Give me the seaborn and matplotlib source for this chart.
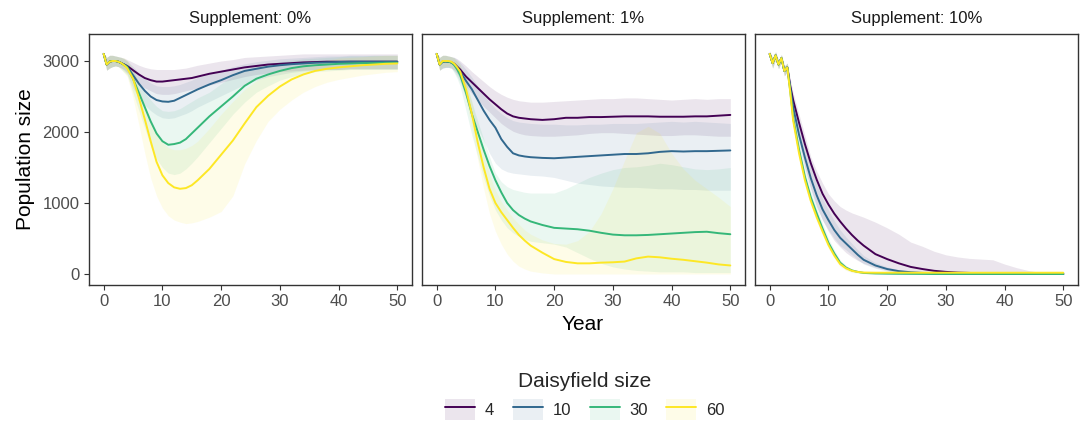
import matplotlib
matplotlib.use("Agg")
import matplotlib.pyplot as plt
import seaborn as sns
import pandas as pd
from matplotlib.patches import Patch
from matplotlib.lines import Line2D

# ---------------- data ----------------
YEARS = [0, 0.5, 1, 1.5, 2, 2.5, 3, 3.5, 4,
         5, 6, 7, 8, 9, 10, 11, 12, 13, 14, 15, 16,
         18, 20, 22, 24, 26, 28, 30, 32, 34, 36, 38, 40, 42, 44, 46, 48, 50]
SUPPLEMENTS = ["Supplement: 0%", "Supplement: 1%", "Supplement: 10%"]
FIELD_SIZES = ["4", "10", "30", "60"]
COLORS = ["#440154", "#31688E", "#35B779", "#FDE725"]

# Supplement 0%
S0_M4 = [3100, 2950, 2990, 3000, 3000, 2990, 2970, 2950, 2930,
         2870, 2810, 2760, 2730, 2710, 2710, 2720, 2730, 2740, 2750, 2760, 2780,
         2820, 2850, 2880, 2910, 2930, 2950, 2960, 2970, 2980, 2985, 2990, 2990, 2990, 2990, 2990, 2990, 2990]
S0_L4 = [3090, 2870, 2900, 2920, 2930, 2920, 2900, 2880, 2840,
         2760, 2680, 2620, 2580, 2540, 2530, 2530, 2540, 2560, 2580, 2600, 2620,
         2660, 2700, 2740, 2780, 2810, 2830, 2850, 2860, 2870, 2880, 2880, 2880, 2890, 2890, 2890, 2890, 2890]
S0_H4 = [3110, 3050, 3080, 3080, 3070, 3060, 3050, 3040, 3020,
         2980, 2940, 2910, 2890, 2880, 2880, 2880, 2880, 2890, 2900, 2920, 2940,
         2970, 3000, 3020, 3050, 3060, 3070, 3080, 3090, 3100, 3100, 3100, 3100, 3100, 3100, 3100, 3100, 3100]
S0_M10 = [3100, 2950, 2990, 3000, 3000, 2990, 2970, 2950, 2920,
          2800, 2680, 2580, 2500, 2450, 2430, 2425, 2440, 2480, 2520, 2560, 2600,
          2670, 2730, 2800, 2860, 2890, 2920, 2940, 2955, 2965, 2975, 2980, 2985, 2990, 2990, 2990, 2990, 2990]
S0_L10 = [3090, 2870, 2900, 2920, 2930, 2920, 2900, 2860, 2820,
          2620, 2480, 2380, 2300, 2240, 2200, 2190, 2200, 2230, 2260, 2300, 2350,
          2430, 2510, 2590, 2670, 2730, 2780, 2810, 2840, 2860, 2870, 2880, 2880, 2890, 2890, 2890, 2890, 2890]
S0_H10 = [3110, 3050, 3080, 3080, 3070, 3060, 3050, 3030, 3000,
          2920, 2830, 2750, 2690, 2650, 2640, 2640, 2650, 2670, 2700, 2730, 2770,
          2820, 2870, 2920, 2960, 2990, 3010, 3030, 3040, 3050, 3060, 3070, 3070, 3080, 3080, 3080, 3080, 3080]
S0_M30 = [3100, 2950, 2990, 3000, 3000, 2990, 2970, 2940, 2920,
          2750, 2550, 2350, 2150, 1980, 1870, 1820, 1830, 1850, 1900, 1980, 2060,
          2220, 2360, 2500, 2650, 2750, 2810, 2860, 2900, 2925, 2940, 2950, 2960, 2965, 2970, 2970, 2975, 2975]
S0_L30 = [3090, 2870, 2900, 2920, 2930, 2920, 2880, 2840, 2800,
          2550, 2300, 2050, 1800, 1620, 1500, 1420, 1400, 1420, 1480, 1560, 1650,
          1850, 2050, 2250, 2420, 2560, 2650, 2730, 2780, 2820, 2850, 2860, 2870, 2880, 2880, 2880, 2880, 2880]
S0_H30 = [3110, 3050, 3080, 3080, 3070, 3060, 3050, 3030, 3000,
          2870, 2700, 2560, 2450, 2360, 2300, 2290, 2300, 2330, 2380, 2430, 2480,
          2560, 2680, 2790, 2870, 2920, 2960, 2990, 3010, 3030, 3040, 3050, 3060, 3070, 3070, 3080, 3080, 3080]
S0_M60 = [3100, 2950, 2990, 3000, 3000, 2990, 2970, 2940, 2900,
          2750, 2480, 2180, 1870, 1580, 1390, 1280, 1220, 1200, 1210, 1250, 1320,
          1480, 1680, 1880, 2120, 2350, 2510, 2640, 2740, 2810, 2860, 2890, 2910, 2925, 2940, 2950, 2960, 2965]
S0_L60 = [3090, 2870, 2900, 2920, 2930, 2920, 2880, 2830, 2780,
          2480, 2100, 1700, 1350, 1100, 930, 820, 760, 730, 710, 720, 740,
          800, 880, 1100, 1550, 1880, 2150, 2320, 2450, 2560, 2640, 2700, 2740, 2770, 2800, 2820, 2840, 2850]
S0_H60 = [3110, 3050, 3080, 3080, 3070, 3060, 3050, 3040, 3010,
          2880, 2620, 2380, 2150, 1980, 1850, 1780, 1750, 1750, 1770, 1810, 1870,
          2050, 2250, 2430, 2600, 2720, 2800, 2860, 2910, 2950, 2980, 3010, 3040, 3050, 3060, 3070, 3080, 3080]

# Supplement 1%
S1_M4 = [3100, 2950, 2990, 2995, 2990, 2980, 2960, 2920, 2880,
         2780, 2700, 2620, 2540, 2460, 2390, 2320, 2260, 2220, 2200, 2190, 2180,
         2170, 2180, 2200, 2200, 2210, 2210, 2215, 2220, 2220, 2220, 2215, 2215, 2215, 2220, 2220, 2230, 2240]
S1_L4 = [3090, 2870, 2900, 2910, 2910, 2900, 2870, 2820, 2760,
         2640, 2540, 2450, 2360, 2280, 2200, 2120, 2060, 2010, 1980, 1960, 1950,
         1940, 1940, 1950, 1960, 1980, 1990, 1990, 1980, 1970, 1960, 1950, 1950, 1960, 1960, 1950, 1940, 1940]
S1_H4 = [3110, 3050, 3080, 3080, 3070, 3060, 3050, 3030, 3000,
         2930, 2850, 2780, 2710, 2640, 2580, 2530, 2490, 2460, 2440, 2430, 2420,
         2420, 2430, 2440, 2450, 2460, 2470, 2470, 2480, 2480, 2470, 2460, 2450, 2460, 2470, 2460, 2470, 2470]
S1_M10 = [3100, 2950, 2990, 2995, 2990, 2980, 2950, 2900, 2850,
          2720, 2600, 2450, 2300, 2170, 2060, 1900, 1790, 1700, 1670, 1655, 1645,
          1635, 1630, 1640, 1650, 1660, 1670, 1680, 1690, 1690, 1700, 1720, 1730, 1725, 1730, 1730, 1735, 1740]
S1_L10 = [3090, 2870, 2900, 2910, 2910, 2900, 2850, 2780, 2700,
          2480, 2250, 2050, 1880, 1700, 1560, 1480, 1440, 1420, 1410, 1400, 1390,
          1380, 1360, 1320, 1280, 1260, 1240, 1230, 1220, 1220, 1210, 1200, 1200, 1190, 1190, 1180, 1180, 1180]
S1_H10 = [3110, 3050, 3080, 3080, 3070, 3060, 3050, 3020, 2980,
          2880, 2770, 2650, 2520, 2420, 2330, 2260, 2200, 2160, 2140, 2130, 2120,
          2110, 2110, 2100, 2100, 2110, 2110, 2120, 2120, 2120, 2130, 2140, 2150, 2140, 2150, 2140, 2130, 2120]
S1_M30 = [3100, 2950, 2990, 2995, 2990, 2980, 2940, 2880, 2800,
          2550, 2250, 2000, 1750, 1520, 1320, 1150, 1000, 900, 830, 780, 740,
          690, 650, 640, 630, 610, 580, 555, 545, 545, 550, 560, 570, 580, 590, 595, 575, 560]
S1_L30 = [3090, 2870, 2900, 2910, 2910, 2900, 2830, 2750, 2640,
          2300, 1950, 1650, 1350, 1100, 900, 760, 650, 580, 530, 490, 460,
          440, 420, 380, 300, 220, 150, 100, 70, 50, 40, 30, 30, 30, 20, 20, 20, 20]
S1_H30 = [3110, 3050, 3080, 3080, 3070, 3060, 3040, 2990, 2940,
          2700, 2420, 2150, 1900, 1650, 1420, 1300, 1230, 1190, 1170, 1150, 1140,
          1140, 1140, 1200, 1280, 1360, 1420, 1470, 1500, 1510, 1530, 1560, 1540, 1510, 1480, 1470, 1480, 1500]
S1_M60 = [3100, 2950, 3000, 3000, 3000, 2990, 2960, 2910, 2850,
          2600, 2250, 1850, 1500, 1200, 1000, 870, 760, 650, 550, 470, 400,
          300, 210, 170, 150, 150, 160, 165, 175, 220, 245, 235, 215, 200, 180, 160, 135, 120]
S1_L60 = [3090, 2870, 2920, 2920, 2930, 2920, 2880, 2820, 2750,
          2450, 2050, 1600, 1200, 850, 600, 420, 280, 180, 110, 70, 40,
          15, 0, 0, 0, 0, 0, 0, 0, 0, 0, 0, 0, 0, 0, 0, 0, 0]
S1_H60 = [3110, 3050, 3080, 3080, 3070, 3060, 3040, 3000, 2950,
          2720, 2420, 2050, 1700, 1400, 1180, 1020, 900, 790, 700, 620, 560,
          480, 430, 420, 470, 600, 850, 1200, 1600, 1990, 2080, 1980, 1700, 1480, 1320, 1200, 1080, 950]

# Supplement 10%
S2_M4 = [3100, 2970, 3080, 2950, 3040, 2860, 2910, 2650, 2450,
         2130, 1830, 1560, 1330, 1130, 980, 850, 740, 640, 550, 470, 400,
         280, 210, 150, 100, 70, 45, 30, 20, 15, 10, 8, 5, 3, 2, 1, 0, 0]
S2_L4 = [3060, 2900, 3030, 2890, 2990, 2790, 2850, 2550, 2300,
         1900, 1500, 1200, 950, 760, 600, 470, 380, 300, 240, 190, 150,
         90, 50, 25, 10, 5, 0, 0, 0, 0, 0, 0, 0, 0, 0, 0, 0, 0]
S2_H4 = [3140, 3040, 3130, 3010, 3090, 2930, 2970, 2750, 2550,
         2250, 1950, 1650, 1450, 1280, 1130, 1030, 950, 900, 860, 830, 800,
         730, 650, 560, 450, 390, 320, 270, 240, 220, 210, 200, 140, 90, 50, 25, 10, 5]
S2_M10 = [3100, 2970, 3080, 2950, 3040, 2860, 2910, 2620, 2350,
          1960, 1640, 1350, 1110, 910, 760, 620, 510, 430, 350, 270, 200,
          120, 70, 40, 25, 15, 10, 5, 3, 2, 1, 0, 0, 0, 0, 0, 0, 0]
S2_L10 = [3060, 2900, 3030, 2890, 2990, 2790, 2850, 2540, 2250,
          1820, 1480, 1180, 940, 760, 620, 500, 400, 340, 270, 200, 140,
          80, 40, 20, 10, 5, 2, 0, 0, 0, 0, 0, 0, 0, 0, 0, 0, 0]
S2_H10 = [3140, 3040, 3130, 3010, 3090, 2930, 2970, 2700, 2450,
          2100, 1800, 1520, 1280, 1060, 900, 750, 620, 520, 430, 340, 260,
          160, 100, 60, 35, 20, 12, 6, 3, 2, 1, 0, 0, 0, 0, 0, 0, 0]
S2_M30 = [3100, 2970, 3080, 2950, 3040, 2860, 2910, 2580, 2200,
          1750, 1370, 1080, 855, 640, 440, 290, 160, 90, 50, 30, 15,
          8, 5, 3, 2, 1, 0, 0, 0, 0, 0, 0, 0, 0, 0, 0, 0, 0]
S2_L30 = [3060, 2900, 3030, 2890, 2990, 2790, 2850, 2520, 2120,
          1660, 1280, 1000, 780, 570, 380, 240, 120, 60, 30, 15, 5,
          0, 0, 0, 0, 0, 0, 0, 0, 0, 0, 0, 0, 0, 0, 0, 0, 0]
S2_H30 = [3140, 3040, 3130, 3010, 3090, 2930, 2970, 2640, 2280,
          1840, 1460, 1160, 930, 710, 500, 340, 200, 120, 70, 45, 30,
          20, 15, 10, 8, 5, 3, 2, 0, 0, 0, 0, 0, 0, 0, 0, 0, 0]
S2_M60 = [3100, 2970, 3080, 2950, 3040, 2860, 2910, 2560, 2160,
          1700, 1320, 1030, 800, 600, 410, 260, 140, 80, 45, 28, 20,
          18, 18, 18, 18, 18, 18, 18, 18, 18, 18, 18, 18, 18, 18, 18, 18, 18]
S2_L60 = [3060, 2900, 3030, 2890, 2990, 2790, 2850, 2500, 2090,
          1630, 1250, 970, 740, 550, 360, 220, 100, 50, 20, 10, 5,
          5, 5, 5, 5, 5, 5, 5, 5, 5, 5, 5, 5, 5, 5, 5, 5, 5]
S2_H60 = [3140, 3040, 3130, 3010, 3090, 2930, 2970, 2620, 2230,
          1770, 1390, 1090, 860, 650, 460, 300, 180, 110, 70, 50, 40,
          35, 30, 30, 30, 30, 30, 30, 30, 30, 30, 30, 30, 30, 30, 30, 30, 30]

SERIES = {
    SUPPLEMENTS[0]: {"4": (S0_M4, S0_L4, S0_H4), "10": (S0_M10, S0_L10, S0_H10),
                     "30": (S0_M30, S0_L30, S0_H30), "60": (S0_M60, S0_L60, S0_H60)},
    SUPPLEMENTS[1]: {"4": (S1_M4, S1_L4, S1_H4), "10": (S1_M10, S1_L10, S1_H10),
                     "30": (S1_M30, S1_L30, S1_H30), "60": (S1_M60, S1_L60, S1_H60)},
    SUPPLEMENTS[2]: {"4": (S2_M4, S2_L4, S2_H4), "10": (S2_M10, S2_L10, S2_H10),
                     "30": (S2_M30, S2_L30, S2_H30), "60": (S2_M60, S2_L60, S2_H60)},
}

rows = []
for sup, groups in SERIES.items():
    for size, (m, lo, hi) in groups.items():
        for y, a, b, c in zip(YEARS, m, lo, hi, strict=True):
            rows.append({"supplement": sup, "size": size, "year": y,
                         "mean": a, "lo": b, "hi": c})
df = pd.DataFrame(rows)

# ---------------- style ----------------
sns.set_theme(style="white")
plt.rcParams["font.family"] = ["Liberation Sans", "DejaVu Sans"]
PALETTE = dict(zip(FIELD_SIZES, COLORS))
BORDER = "#333333"
TICKTXT = "#4D4D4D"

fig = plt.figure(figsize=(10.86, 4.26), dpi=100)
W, H = 1086, 426
lefts = [89, 422, 755]
pw = 323
top, bottom = 34, 285
axes = []
for i, l in enumerate(lefts):
    ax = fig.add_axes([l / W, 1 - bottom / H, pw / W, (bottom - top) / H],
                      sharey=axes[0] if axes else None)
    axes.append(ax)

for ax, sup in zip(axes, SUPPLEMENTS):
    sub = df[df["supplement"] == sup]
    for size in FIELD_SIZES:
        g = sub[sub["size"] == size]
        ax.fill_between(g["year"], g["lo"], g["hi"], color=PALETTE[size],
                        alpha=0.1, linewidth=0)
    sns.lineplot(data=sub, x="year", y="mean", hue="size", hue_order=FIELD_SIZES,
                 palette=PALETTE, ax=ax, legend=False, linewidth=1.4,
                 errorbar=None, estimator=None)
    ax.set_xlim(-2.5, 52.5)
    ax.set_ylim(-155, 3380)
    ax.set_xticks([0, 10, 20, 30, 40, 50])
    ax.set_yticks([0, 1000, 2000, 3000])
    ax.set_xlabel("")
    ax.set_ylabel("")
    ax.tick_params(axis="both", which="both", direction="out", length=3.8,
                   width=0.8, color=BORDER, labelcolor=TICKTXT, labelsize=12,
                   pad=3, bottom=True, left=True)
    for sp in ax.spines.values():
        sp.set_color(BORDER)
        sp.set_linewidth(1.0)
    ax.grid(False)
    ax.text(0.5, 1.0 + 15 / 251, sup, transform=ax.transAxes, ha="center",
            va="center", fontsize=12, color="#1A1A1A")

for ax in axes[1:]:
    ax.tick_params(axis="y", left=False, labelleft=False)

fig.text(25.5 / W, 1 - 159.5 / H, "Population size", rotation=90,
         ha="center", va="center", fontsize=15, color="black")
fig.text(583 / W, 1 - 324 / H, "Year", ha="center", va="center",
         fontsize=15, color="black")

handles = [(Patch(facecolor=c, alpha=0.1, edgecolor="none"),
            Line2D([], [], color=c, linewidth=1.4)) for c in COLORS]
leg = fig.legend(handles, FIELD_SIZES, loc="center",
                 bbox_to_anchor=(585 / W, 1 - 396 / H), ncol=4,
                 title="Daisyfield size", title_fontsize=15, fontsize=12,
                 frameon=False, handlelength=1.8, handleheight=1.6,
                 handletextpad=0.6, columnspacing=1.1, borderpad=0.2)

fig.savefig("out.png", dpi=100)
